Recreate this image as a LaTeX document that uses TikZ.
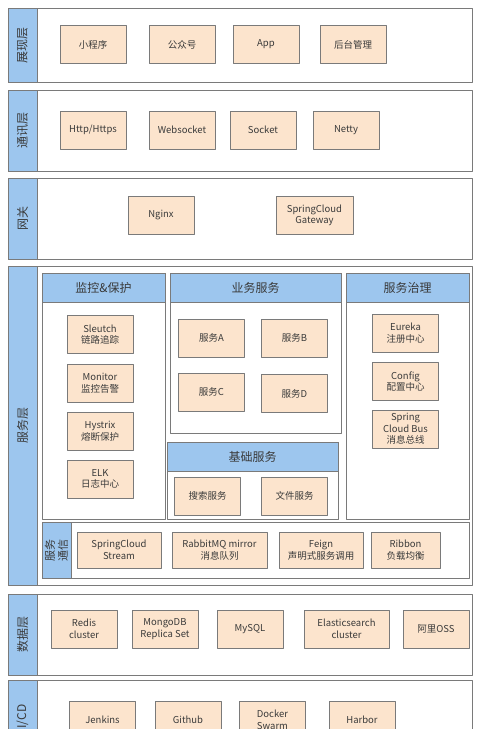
\documentclass[tikz,border=0pt]{standalone}
\usepackage{fontspec}
\setmainfont{Noto Sans CJK SC}
\definecolor{hdblue}{HTML}{9DC6EE}
\definecolor{peach}{HTML}{FCE4CD}
\definecolor{edge}{HTML}{7A7A7A}
\definecolor{txt}{HTML}{3A3A3A}
\tikzset{
	box/.style={draw=edge, fill=peach, line width=0.8pt, minimum width=66pt, minimum height=38pt, inner sep=1pt, align=center, text=txt, font=\fontsize{9.5}{11.5}\selectfont},
	layerlbl/.style={rotate=90, text=txt, font=\fontsize{12}{14}\selectfont},
	paneltitle/.style={text=txt, font=\fontsize{12}{14}\selectfont},
}
\begin{document}
\begin{tikzpicture}[x=1pt, y=-1pt, line join=round]
				\useasboundingbox (0,0) rectangle (480,729);
				\fill[white] (0,0) rectangle (480,729);
				\clip (0,0) rectangle (480,729);
				% Các tầng
				\foreach \t/\b/\nm/\lbl in {8/82/show/展现层, 90/171/comm/通讯层, 178/259/gw/网关, 266/585/svc/服务层, 594/675/data/数据层, 680/761/cicd/{CI/CD}}{
					\draw[draw=edge, line width=0.8pt] (8,\t) rectangle (472,\b);
					\draw[draw=edge, line width=0.8pt, fill=hdblue] (8,\t) rectangle (37,\b);
					\node[layerlbl] (\nm) at (22.5,{(\t+\b)/2}) {\lbl};
				}
				% 展现层
				\foreach \x/\nm/\s in {93/xcx/小程序, 182/gzh/公众号, 266/app/App, 353/admin/后台管理}
				\node[box] (\nm) at (\x,44.5) {\s};
				% 通讯层
				\foreach \x/\nm/\s in {93/http/{Http/Https}, 182/ws/Websocket, 263/sock/Socket, 346/netty/Netty}
				\node[box] (\nm) at (\x,130) {\s};
				% 网关
				\node[box] (nginx) at (161,215.5) {Nginx};
				\node[box, minimum width=77pt] (scg) at (314.5,215.5) {SpringCloud\\Gateway};
				% 服务层: các khung con
				\foreach \l/\t/\r/\b/\h/\nm/\s in {42/273/165/519/302/mon/监控\&保护, 170/273/341/433/302/biz/业务服务, 167/442/338/519/471/base/基础服务, 346/273/469/519/302/gov/服务治理}{
					\draw[draw=edge, line width=0.8pt, fill=white] (\l,\t) rectangle (\r,\b);
					\draw[draw=edge, line width=0.8pt, fill=hdblue] (\l,\t) rectangle (\r,\h);
					\node[paneltitle] (\nm) at ({(\l+\r)/2},{(\t+\h)/2}) {\s};
				}
				\foreach \y/\nm/\s in {334.5/sleuth/Sleutch\\链路追踪, 383/monitor/Monitor\\监控告警, 431/hystrix/Hystrix\\熔断保护, 479/elk/ELK\\日志中心}
				\node[box] (\nm) at (100,\y) {\s};
				\node[box] (sa) at (211.5,338) {服务A};
				\node[box] (sb) at (294.5,338) {服务B};
				\node[box] (sc) at (211.5,392) {服务C};
				\node[box] (sd) at (294.5,393.5) {服务D};
				\node[box] (search) at (207.5,496) {搜索服务};
				\node[box] (file) at (294.5,496) {文件服务};
				\foreach \y/\nm/\s in {333/eureka/Eureka\\注册中心, 381.5/config/Config\\配置中心, 429/bus/Spring\\Cloud Bus\\消息总线}
				\node[box] (\nm) at (405.5,\y) {\s};
				% 服务通信
				\draw[draw=edge, line width=0.8pt, fill=white] (42,522) rectangle (469,578);
				\draw[draw=edge, line width=0.8pt, fill=hdblue] (42,522) rectangle (71,578);
				\node[rotate=90, align=center, text=txt, font=\fontsize{11}{13}\selectfont] (svccomm) at (56.5,550) {服务\\通信};
				\foreach \x/\w/\nm/\s in {119/84/stream/SpringCloud\\Stream, 219.5/95/mq/RabbitMQ mirror\\消息队列, 321/84/feign/Feign\\声明式服务调用, 405.5/69/ribbon/Ribbon\\负载均衡}
				\node[box, minimum width=\w pt, minimum height=36pt] (\nm) at (\x,550) {\s};
				% 数据层
				\foreach \x/\w/\nm/\s in {84/66/redis/Redis\\cluster, 165/66/mongo/MongoDB\\Replica Set, 250/66/mysql/MySQL, 346.5/85/es/Elasticsearch\\cluster, 436/66/oss/阿里OSS}
				\node[box, minimum width=\w pt] (\nm) at (\x,629) {\s};
				% CI/CD
				\foreach \x/\nm/\s in {102.5/jenkins/Jenkins, 188/github/Github, 272.5/docker/Docker\\Swarm, 362/harbor/Harbor}
				\node[box] (\nm) at (\x,720) {\s};
\end{tikzpicture}
\end{document}
